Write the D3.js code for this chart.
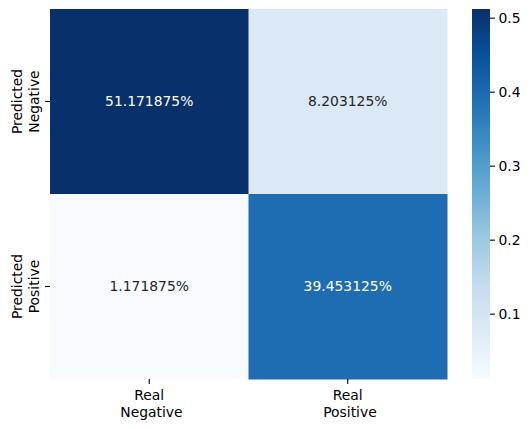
<!DOCTYPE html>
<html>
<head>
<meta charset="utf-8">
<script src="https://cdn.jsdelivr.net/npm/d3@7"></script>
<style>
  body { margin: 0; background: #fff; }
  svg text { font-family: "DejaVu Sans", sans-serif; }
</style>
</head>
<body>
<svg id="chart" width="531" height="429"></svg>
<script>
var rowLabels = ["Predicted\nNegative", "Predicted\nPositive"];
var colLabels = ["Real\n Negative", "Real\n Positive"];
var values = [
  [0.51171875, 0.08203125],
  [0.01171875, 0.39453125]
];
var cbarTicks = [0.1, 0.2, 0.3, 0.4, 0.5];
var blues = ["#f7fbff", "#deebf7", "#c6dbef", "#9ecae1", "#6baed6", "#4292c6", "#2171b5", "#08519c", "#08306b"];

var svg = d3.select("#chart"),
  margin = { top: 9, left: 50 },
  width = 397,
  height = 370,
  fontSize = 13.9;

var flat = [];
values.forEach(function (row, i) {
  row.forEach(function (v, j) { flat.push({ r: i, c: j, v: v }); });
});
var vmin = d3.min(flat, function (d) { return d.v; }),
  vmax = d3.max(flat, function (d) { return d.v; });

// matplotlib Blues: linear segments between the brewer colours
var color = d3.scaleLinear()
  .domain(blues.map(function (c, i) { return vmin + (vmax - vmin) * i / (blues.length - 1); }))
  .range(blues)
  .interpolate(d3.interpolateRgb);

var xScale = d3.scaleBand().domain(d3.range(colLabels.length)).range([0, width]),
  yScale = d3.scaleBand().domain(d3.range(rowLabels.length)).range([0, height]);

var g = svg.append("g").attr("transform", "translate(" + margin.left + "," + margin.top + ")");

g.selectAll(".cell")
  .data(flat)
  .enter().append("rect")
  .attr("class", "cell")
  .attr("x", function (d) { return xScale(d.c); })
  .attr("y", function (d) { return yScale(d.r); })
  .attr("width", xScale.bandwidth() + 0.5)
  .attr("height", yScale.bandwidth() + 0.5)
  .attr("fill", function (d) { return color(d.v); });

g.selectAll(".annot")
  .data(flat)
  .enter().append("text")
  .attr("class", "annot")
  .attr("x", function (d) { return xScale(d.c) + xScale.bandwidth() / 2; })
  .attr("y", function (d) { return yScale(d.r) + yScale.bandwidth() / 2; })
  .attr("dy", "0.35em")
  .attr("text-anchor", "middle")
  .attr("font-size", fontSize)
  .attr("fill", function (d) {
    var c = d3.hsl(color(d.v));
    var lum = d3.rgb(color(d.v));
    var l = 0.2126 * lum.r + 0.7152 * lum.g + 0.0722 * lum.b;
    return l > 130 ? "#262626" : "#ffffff";
  })
  .text(function (d) { return (d.v * 100) + "%"; });

// x ticks and labels
var xt = g.selectAll(".xtick")
  .data(colLabels)
  .enter().append("g")
  .attr("class", "xtick")
  .attr("transform", function (d, i) { return "translate(" + (xScale(i) + xScale.bandwidth() / 2) + "," + height + ")"; });
xt.append("line").attr("y2", 4.9).attr("stroke", "#000").attr("stroke-width", 1.1);
xt.each(function (d) {
  var t = d3.select(this).append("text")
    .attr("text-anchor", "middle")
    .attr("font-size", fontSize)
    .attr("fill", "#000")
    .style("white-space", "pre");
  d.split("\n").forEach(function (line, k) {
    t.append("tspan").attr("x", 0).attr("y", 21 + k * 16.5).text(line);
  });
});

// y ticks and labels
var yt = g.selectAll(".ytick")
  .data(rowLabels)
  .enter().append("g")
  .attr("class", "ytick")
  .attr("transform", function (d, i) { return "translate(0," + (yScale(i) + yScale.bandwidth() / 2) + ")"; });
yt.append("line").attr("x2", -4.9).attr("stroke", "#000").attr("stroke-width", 1.1);
yt.each(function (d) {
  var t = d3.select(this).append("text")
    .attr("transform", "rotate(-90)")
    .attr("text-anchor", "middle")
    .attr("font-size", fontSize)
    .attr("fill", "#000")
    .style("white-space", "pre");
  d.split("\n").forEach(function (line, k) {
    t.append("tspan").attr("x", 0).attr("y", -28 + k * 16.5).text(line);
  });
});

// colorbar
var cbX = 472, cbW = 18;
var cbScale = d3.scaleLinear().domain([vmin, vmax]).range([margin.top + height, margin.top]);

var grad = svg.append("defs").append("linearGradient")
  .attr("id", "cbgrad")
  .attr("x1", 0).attr("y1", 1).attr("x2", 0).attr("y2", 0);
grad.selectAll("stop")
  .data(d3.range(0, 1.0001, 1 / 64))
  .enter().append("stop")
  .attr("offset", function (t) { return t; })
  .attr("stop-color", function (t) { return color(vmin + t * (vmax - vmin)); });

svg.append("rect")
  .attr("x", cbX)
  .attr("y", margin.top)
  .attr("width", cbW)
  .attr("height", height)
  .attr("fill", "url(#cbgrad)");

var cbAxis = svg.append("g")
  .attr("transform", "translate(" + (cbX + cbW) + ",0)")
  .call(d3.axisRight(cbScale).tickValues(cbarTicks).tickSize(4.9).tickPadding(3.5).tickFormat(d3.format(".1f")));
cbAxis.select(".domain").remove();
cbAxis.selectAll(".tick line").attr("stroke", "#000").attr("stroke-width", 1.1);
cbAxis.selectAll(".tick text").attr("font-size", fontSize).attr("fill", "#000")
  .attr("font-family", "DejaVu Sans, sans-serif");
</script>
</body>
</html>
